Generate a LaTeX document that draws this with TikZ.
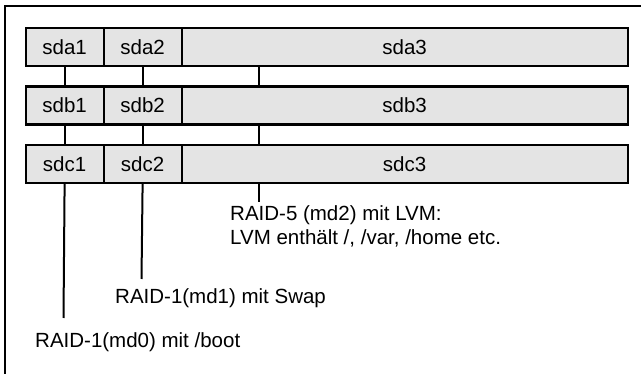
\documentclass[tikz,border=0pt]{standalone}
\usepackage{fontspec}
\setmainfont{Liberation Sans}
\definecolor{cellgray}{RGB}{228,228,228}
\begin{document}
\begin{tikzpicture}[x=1pt,y=-1pt,
  cell/.style={draw=black, fill=cellgray, line width=2.2pt, anchor=north west,
    minimum height=38pt, inner sep=0pt, font=\fontsize{20.5}{24}\selectfont},
  narrow/.style={cell, minimum width=78pt},
  wide/.style={cell, minimum width=446pt},
  link/.style={line width=2pt},
  caption/.style={inner sep=0pt, font=\fontsize{20.5}{24}\selectfont, align=left}]
  \useasboundingbox (0,0) rectangle (641,374);
  % open frame: left and top edges only
  \draw[line width=2.8pt] (5,374) -- (5,6) -- (641,6);

  % three disks, three partitions each
  \foreach \d/\y in {a/27, b/85.5, c/144} {
    \node[narrow] (sd\d1) at (24.5,\y)  {sd\d1};
    \node[narrow] (sd\d2) at (102.5,\y) {sd\d2};
    \node[wide]   (sd\d3) at (180.5,\y) {sd\d3};
  }

  % array labels
  \node[caption, anchor=base west] (md0) at (35,348) {RAID-1(md0) mit /boot};
  \node[caption, anchor=base west] (md1) at (115,304) {RAID-1(md1) mit Swap};
  \node[caption, anchor=north west] (md2) at (230,205.5)
    {RAID-5 (md2) mit LVM:\\LVM enthält /, /var, /home etc.};

  % free ends of the array links
  \coordinate (e0) at (63.5,318);
  \coordinate (e1) at (141.5,279);
  \coordinate (e2) at (258.5,202);

  % md0: first partitions
  \draw[link] (sda1) -- (sdb1);
  \draw[link] (sdb1) -- (sdc1);
  \draw[link] (sdc1.south) -- (e0);
  % md1: second partitions
  \draw[link] (sda2) -- (sdb2);
  \draw[link] (sdb2) -- (sdc2);
  \draw[link] (sdc2.south) -- (e1);
  % md2: third partitions
  \draw[link] ([xshift=78pt]sda3.south west) -- ([xshift=78pt]sdb3.north west);
  \draw[link] ([xshift=78pt]sdb3.south west) -- ([xshift=78pt]sdc3.north west);
  \draw[link] ([xshift=78pt]sdc3.south west) -- (e2);
\end{tikzpicture}
\end{document}
